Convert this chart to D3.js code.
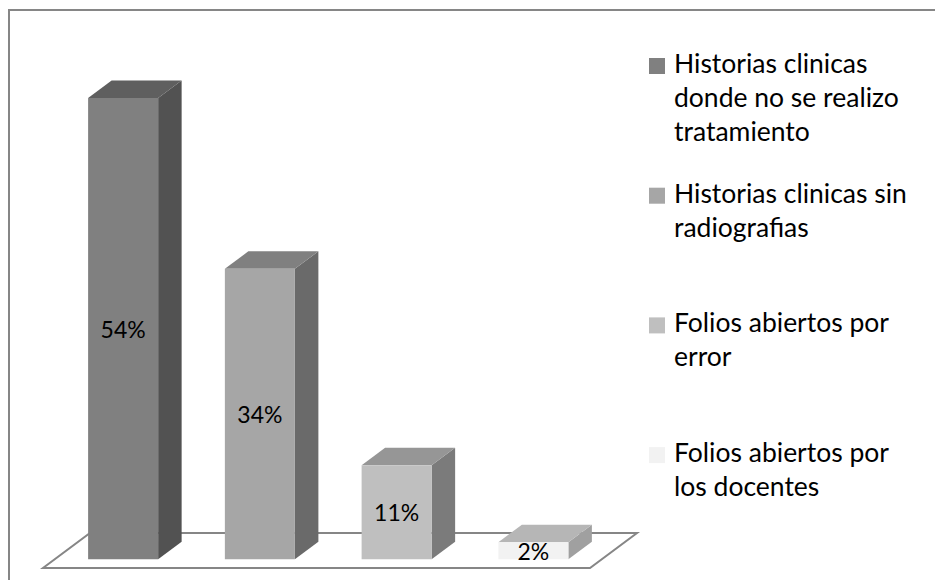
<!DOCTYPE html>
<html>
<head>
<meta charset="utf-8">
<script src="https://cdn.jsdelivr.net/npm/d3@7"></script>
<style>
  body { margin: 0; background: #fff; }
  svg { display: block; font-family: Lato, 'Open Sans', sans-serif; }
</style>
</head>
<body>
<div id="chart"></div>
<script>
// datos
const categories = [
  'Historias clinicas donde no se realizo tratamiento',
  'Historias clinicas sin radiografias',
  'Folios abiertos por error',
  'Folios abiertos por los docentes'
]
const values = [0.54, 0.34, 0.11, 0.02]
const labels = ['54%', '34%', '11%', '2%']
const legendLines = [
  ['Historias clinicas', 'donde no se realizo', 'tratamiento'],
  ['Historias clinicas sin', 'radiografias'],
  ['Folios abiertos por', 'error'],
  ['Folios abiertos por', 'los docentes']
]
const frontColors = ['#808080', '#a6a6a6', '#bfbfbf', '#f2f2f2']
const sideColors = ['#525252', '#6a6a6a', '#7b7b7b', '#a0a0a0']
const topColors = ['#5f5f5f', '#808080', '#969696', '#b6b6b6']

const width = 935, height = 580
const svg = d3.select('#chart').append('svg')
  .attr('width', width).attr('height', height)

// marco exterior
svg.append('rect')
  .attr('x', 9).attr('y', 10)
  .attr('width', width + 10).attr('height', height + 10)
  .attr('fill', '#fff').attr('stroke', '#868686').attr('stroke-width', 2)

// piso en perspectiva
const floorLeft = 43, floorRight = 590, floorFront = 568
const depthX = 47, depthY = -35

const x = d3.scaleBand()
  .domain(categories)
  .range([floorLeft, floorRight])
  .paddingInner(0.488)
  .paddingOuter(0.244)

const y = d3.scaleLinear()
  .domain([0, 0.54])
  .range([floorFront + depthY * 0.25, 98])

svg.append('path')
  .attr('d', `M${floorLeft},${floorFront} L${floorRight},${floorFront} L${floorRight + depthX},${floorFront + depthY} L${floorLeft + depthX},${floorFront + depthY} Z`)
  .attr('fill', '#fff').attr('stroke', '#868686').attr('stroke-width', 2)

// barras 3D
const bx = depthX / 2, by = depthY / 2
const bars = svg.append('g').selectAll('g')
  .data(values)
  .join('g')

bars.each(function (d, i) {
  const g = d3.select(this)
  const x0 = x(categories[i]) + depthX * 0.25
  const w = x.bandwidth()
  const y0 = y(0)
  const y1 = y(d)
  g.append('path')
    .attr('d', `M${x0 + w},${y0} L${x0 + w + bx},${y0 + by} L${x0 + w + bx},${y1 + by} L${x0 + w},${y1} Z`)
    .attr('fill', sideColors[i])
  g.append('path')
    .attr('d', `M${x0},${y1} L${x0 + bx},${y1 + by} L${x0 + w + bx},${y1 + by} L${x0 + w},${y1} Z`)
    .attr('fill', topColors[i])
  g.append('rect')
    .attr('x', x0).attr('y', y1)
    .attr('width', w).attr('height', y0 - y1)
    .attr('fill', frontColors[i])
  g.append('text')
    .attr('x', x0 + w / 2)
    .attr('y', (y0 + y1) / 2 + 9)
    .attr('text-anchor', 'middle')
    .attr('font-size', 23)
    .attr('fill', '#000')
    .text(labels[i])
})

// leyenda
const legend = svg.append('g').selectAll('g')
  .data(legendLines)
  .join('g')
  .attr('transform', (d, i) => `translate(649, ${73 + i * 129.7})`)

legend.append('rect')
  .attr('x', 0).attr('y', -15)
  .attr('width', 16).attr('height', 16)
  .attr('fill', (d, i) => frontColors[i])

legend.append('text')
  .attr('x', 25)
  .attr('font-size', 26.5)
  .attr('fill', '#000')
  .selectAll('tspan')
  .data(d => d)
  .join('tspan')
  .attr('x', 25)
  .attr('y', (d, j) => j * 34)
  .text(d => d)
</script>
</body>
</html>
